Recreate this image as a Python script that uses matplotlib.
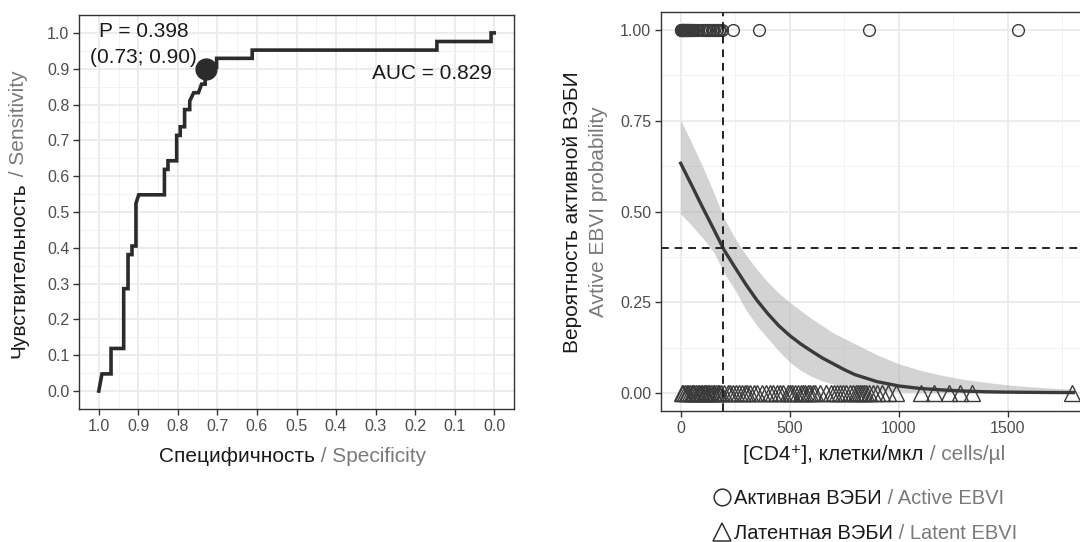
import numpy as np
import matplotlib
matplotlib.use("Agg")
import matplotlib.pyplot as plt
from matplotlib.lines import Line2D
from matplotlib.ticker import MultipleLocator

plt.rcParams["font.family"] = ["Liberation Sans", "DejaVu Sans"]

# ── ROC curve (specificity, sensitivity) ──────────────────────────────────
roc_spec = [1.000, 0.992, 0.969, 0.969, 0.937, 0.937, 0.926, 0.926, 0.916, 0.916,
            0.906, 0.906, 0.899, 0.834, 0.834, 0.825, 0.825, 0.803, 0.803, 0.794,
            0.794, 0.783, 0.783, 0.770, 0.770, 0.760, 0.748, 0.740, 0.731, 0.731,
            0.702, 0.702, 0.612, 0.612, 0.145, 0.145, 0.008, 0.008, 0.000]
roc_sens = [0.000, 0.048, 0.048, 0.119, 0.119, 0.286, 0.286, 0.381, 0.381, 0.405,
            0.405, 0.524, 0.548, 0.548, 0.619, 0.619, 0.643, 0.643, 0.714, 0.714,
            0.738, 0.738, 0.786, 0.786, 0.810, 0.833, 0.833, 0.857, 0.857, 0.905,
            0.905, 0.929, 0.929, 0.952, 0.952, 0.976, 0.976, 1.000, 1.000]
cut_spec, cut_sens = 0.73, 0.90
cut_p = 0.398
auc = 0.829

# ── logistic model: CD4 vs probability of active EBVI ─────────────────────
active_cd4 = [1, 3, 5, 7, 9, 11, 13, 15, 18, 20, 23, 26, 29, 32, 35, 38, 42, 46,
              50, 55, 62, 70, 78, 100, 108, 115, 122, 128, 135, 142, 148, 155,
              162, 168, 175, 182, 188, 241, 359, 862, 1546]
latent_cd4 = [5, 12, 20, 28, 35, 42, 50, 58, 63, 70, 78, 85, 92, 98, 105, 110,
              118, 125, 132, 140, 148, 155, 162, 170, 178, 185, 200, 215, 228,
              240, 255, 268, 280, 295, 305, 320, 335, 350, 372, 390, 410, 425,
              440, 455, 470, 490, 500, 512, 525, 540, 552, 560, 570, 582, 595,
              605, 618, 640, 665, 690, 705, 718, 732, 745, 760, 778, 792, 805,
              815, 822, 830, 840, 850, 862, 880, 900, 925, 950, 985, 1100, 1160,
              1228, 1282, 1336, 1795]

cd4_grid = [0, 50, 100, 150, 200, 250, 300, 350, 400, 450, 500, 550, 600, 650,
            700, 750, 800, 900, 1000, 1100, 1200, 1300, 1400, 1500, 1600, 1700, 1800]
prob_fit = [0.633, 0.573, 0.512, 0.453, 0.393, 0.345, 0.298, 0.255, 0.218, 0.185,
            0.158, 0.135, 0.115, 0.096, 0.080, 0.064, 0.050, 0.031, 0.019, 0.012,
            0.008, 0.005, 0.003, 0.002, 0.0015, 0.001, 0.0007]
prob_hi = [0.751, 0.690, 0.625, 0.555, 0.480, 0.425, 0.380, 0.340, 0.305, 0.275,
           0.250, 0.227, 0.205, 0.185, 0.165, 0.150, 0.135, 0.105, 0.080, 0.062,
           0.048, 0.037, 0.029, 0.022, 0.017, 0.013, 0.010]
prob_lo = [0.494, 0.462, 0.428, 0.390, 0.330, 0.283, 0.228, 0.185, 0.150, 0.115,
           0.085, 0.062, 0.045, 0.033, 0.024, 0.017, 0.012, 0.006, 0.003, 0.0015,
           0.0008, 0.0004, 0.0002, 0.0001, 0.0, 0.0, 0.0]
cut_cd4 = 192

INK = "#1a1a1a"
GREY = "#7a7a7a"
TICK = "#4d4d4d"
FRAME = "#333333"
LINE = "#2b2b2b"

W, H = 1080, 542
fig = plt.figure(figsize=(W / 100, H / 100), dpi=100)


def px_box(l, t, r, b):
    return [l / W, 1 - b / H, (r - l) / W, (b - t) / H]


def style(ax):
    for s in ax.spines.values():
        s.set_color(FRAME)
        s.set_linewidth(1.0)
    ax.tick_params(which="major", length=4, width=1, color=FRAME,
                   labelcolor=TICK, labelsize=11.5, pad=3)
    ax.tick_params(which="minor", length=0)
    ax.grid(which="major", color="#ebebeb", lw=1.3)
    ax.grid(which="minor", color="#f2f2f2", lw=0.7)
    ax.set_axisbelow(True)


def two_tone(cx, cy, s1, s2, size, rotation=0):
    # black part + grey part, centred on (cx, cy) given in pixels from top-left
    r = fig.canvas.get_renderer()
    t1 = fig.text(0, 0, s1, color=INK, fontsize=size, rotation=rotation)
    t2 = fig.text(0, 0, s2, color=GREY, fontsize=size, rotation=rotation)
    e1 = t1.get_window_extent(r)
    e2 = t2.get_window_extent(r)
    if rotation == 0:
        x0 = cx - (e1.width + e2.width) / 2
        t1.set(x=x0 / W, y=1 - cy / H, ha="left", va="center")
        t2.set(x=(x0 + e1.width) / W, y=1 - cy / H, ha="left", va="center")
    else:
        y0 = (H - cy) - (e1.height + e2.height) / 2
        t1.set(x=cx / W, y=y0 / H, ha="center", va="bottom")
        t2.set(x=cx / W, y=(y0 + e1.height) / H, ha="center", va="bottom")


# ── left: ROC ─────────────────────────────────────────────────────────────
ax1 = fig.add_axes(px_box(79, 15, 514, 409))
style(ax1)
ax1.plot(roc_spec, roc_sens, color=LINE, lw=2.6, solid_joinstyle="miter")
ax1.plot([cut_spec], [cut_sens], "o", color=LINE, ms=15)
ax1.set_xlim(1.05, -0.05)
ax1.set_ylim(-0.05, 1.05)
ticks = np.round(np.arange(0, 1.01, 0.1), 1)
ax1.set_xticks(ticks, [f"{v:.1f}" for v in ticks])
ax1.set_yticks(ticks, [f"{v:.1f}" for v in ticks])
ax1.xaxis.set_minor_locator(MultipleLocator(0.05))
ax1.yaxis.set_minor_locator(MultipleLocator(0.05))
ax1.text(0.887, 1.005, f"P = {cut_p:.3f}", ha="center", va="center",
         fontsize=15, color=INK)
ax1.text(0.887, 0.932, f"({cut_spec:.2f}; {cut_sens:.2f})", ha="center",
         va="center", fontsize=15, color=INK)
ax1.text(0.005, 0.888, f"AUC = {auc:.3f}", ha="right", va="center",
         fontsize=15, color=INK)

# ── right: logistic regression ────────────────────────────────────────────
ax2 = fig.add_axes(px_box(661, 12, 1093, 411))
style(ax2)
ax2.fill_between(cd4_grid, prob_lo, prob_hi, color="#a8a8a8", alpha=0.5, lw=0)
ax2.plot(latent_cd4, np.zeros(len(latent_cd4)), ls="none", marker="^",
         mfc="none", mec="#3a3a3a", ms=11, mew=1.0)
ax2.plot(active_cd4, np.ones(len(active_cd4)), ls="none", marker="o",
         mfc="none", mec="#3a3a3a", ms=8.5, mew=1.0)
ax2.plot(cd4_grid, prob_fit, color="#3a3a3a", lw=2.4)
ax2.axvline(cut_cd4, color="#222222", lw=1.4, ls=(0, (4, 3)))
ax2.axhline(cut_p, color="#222222", lw=1.4, ls=(0, (4, 3)))
ax2.set_xlim(-90, 1890)
ax2.set_ylim(-0.05, 1.05)
ax2.set_xticks([0, 500, 1000, 1500], ["0", "500", "1000", "1500"])
ax2.set_yticks([0, 0.25, 0.5, 0.75, 1.0], ["0.00", "0.25", "0.50", "0.75", "1.00"])
ax2.xaxis.set_minor_locator(MultipleLocator(250))
ax2.yaxis.set_minor_locator(MultipleLocator(0.125))

handles = [
    Line2D([], [], ls="none", marker="o", mfc="none", mec="#333333", ms=12, mew=1.1),
    Line2D([], [], ls="none", marker="^", mfc="none", mec="#333333", ms=13, mew=1.1),
]
leg = ax2.legend(handles, ["Активная ВЭБИ", "Латентная ВЭБИ"], loc="upper left",
                 bbox_to_anchor=(712 / W, 1 - 489 / H), bbox_transform=fig.transFigure,
                 frameon=False, fontsize=14.5, handlelength=1.0, handletextpad=0.1,
                 borderpad=0, borderaxespad=0, labelspacing=0.8)
for txt in leg.get_texts():
    txt.set_color(INK)
for txt, s in zip(leg.get_texts(), [" / Active EBVI", " / Latent EBVI"]):
    ax2.annotate(s, xy=(1, 0), xycoords=txt, ha="left", va="bottom",
                 color=GREY, fontsize=14.5, zorder=6)

# ── axis titles ───────────────────────────────────────────────────────────
two_tone(293, 457, "Специфичность", " / Specificity", 15)
two_tone(19, 214, "Чувствительность", " / Sensitivity", 15, rotation=90)
two_tone(874, 455, "[CD4⁺], клетки/мкл", " / cells/µl", 15)
fig.text(572 / W, 1 - 211.7 / H, "Вероятность активной ВЭБИ", rotation=90,
         ha="center", va="center", fontsize=15, color=INK)
fig.text(599 / W, 1 - 211.7 / H, "Avtive EBVI probability", rotation=90,
         ha="center", va="center", fontsize=15, color=GREY)

fig.canvas.draw()
fig.savefig("out.png", dpi=100, facecolor="white")
